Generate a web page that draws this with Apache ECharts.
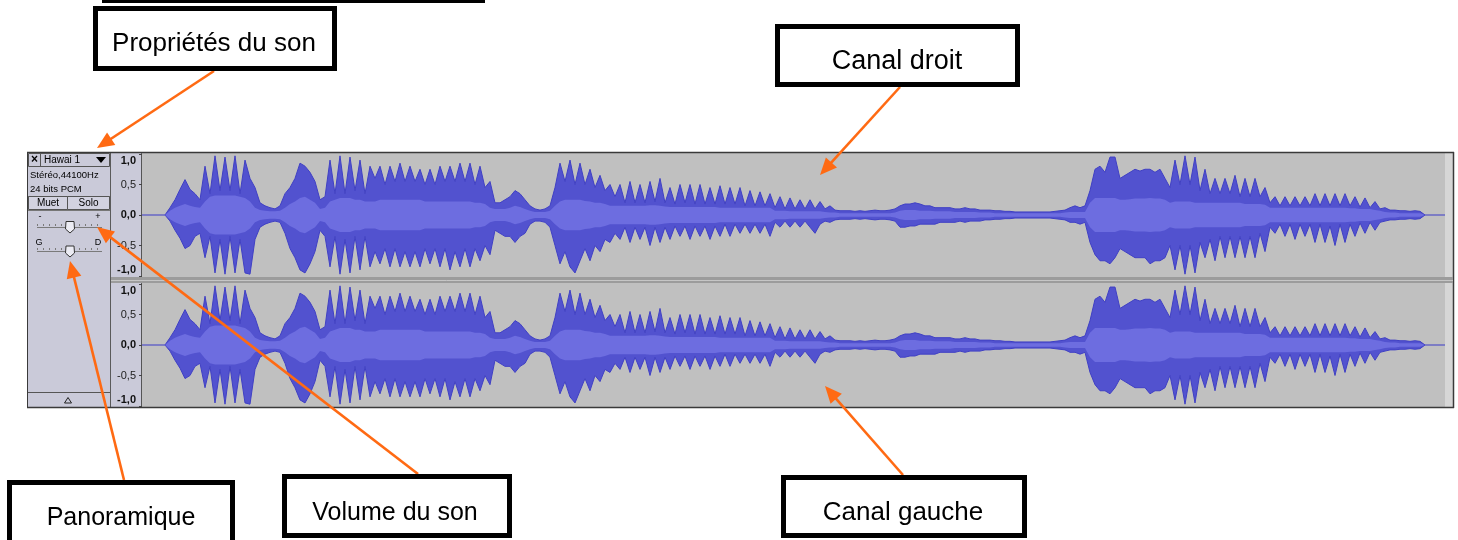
<!DOCTYPE html>
<html>
<head>
<meta charset="utf-8">
<script src="https://cdn.jsdelivr.net/npm/echarts@6.0.0/dist/echarts.min.js"></script>
<style>
html,body{margin:0;padding:0;background:#ffffff;}
#chart{width:1458px;height:540px;}
</style>
</head>
<body>
<div id="chart"></div>
<script>
// amplitude ticks of the vertical ruler and their labels
const yTicks = [-1, -0.5, 0, 0.5, 1];
const yTickLabels = ['-1,0', '-0,5', '0,0', '0,5', '1,0'];

// waveform, one value per sample column: peak maximum, peak minimum, RMS level
const peakMax = [
 0,.12,.25,.42,.58,.42,.35,.25,.8,.35,
 .97,.4,.95,.4,.97,.35,.9,.6,.45,.2,
 .15,.12,.1,.15,.35,.45,.6,.85,.8,.7,
 .55,.25,.3,.9,.35,.97,.35,.95,.4,.9,
 .35,.8,.6,.8,.5,.8,.55,.85,.55,.8,
 .55,.75,.5,.75,.5,.8,.55,.8,.55,.85,
 .55,.85,.5,.8,.45,.55,.2,.2,.25,.3,
 .4,.35,.25,.15,.1,.08,.1,.15,.45,.85,
 .55,.9,.5,.85,.5,.75,.45,.65,.4,.5,
 .3,.5,.2,.55,.2,.5,.2,.55,.22,.6,
 .2,.45,.18,.5,.2,.5,.18,.5,.18,.45,
 .18,.48,.18,.45,.18,.45,.15,.4,.15,.38,
 .15,.35,.12,.3,.1,.28,.1,.25,.1,.25,
 .1,.22,.1,.15,.08,.07,.07,.07,.06,.07,
 .06,.07,.08,.07,.07,.08,.1,.15,.18,.18,
 .2,.18,.15,.15,.12,.12,.12,.12,.1,.1,
 .12,.1,.1,.08,.08,.08,.07,.07,.06,.06,
 .05,.05,.05,.05,.05,.05,.05,.05,.06,.07,
 .08,.12,.15,.12,.15,.4,.75,.8,.7,.95,
 .95,.6,.65,.7,.75,.72,.75,.75,.7,.75,
 .6,.45,.9,.5,.97,.5,.95,.4,.75,.35,
 .6,.35,.6,.35,.65,.3,.6,.3,.6,.3,
 .45,.2,.3,.15,.3,.15,.3,.15,.3,.15,
 .35,.15,.35,.15,.35,.15,.35,.15,.3,.13,
 .28,.12,.22,.1,.12,.08,.08,.07,.07,.06,
 .07,.06,0
];
const peakMin = [
 0,-.1,-.25,-.38,-.55,-.5,-.35,-.3,-.7,-.35,
 -.95,-.4,-.97,-.35,-.95,-.4,-.95,-.97,-.4,-.2,
 -.15,-.12,-.1,-.12,-.3,-.55,-.7,-.9,-.95,-.8,
 -.6,-.25,-.35,-.85,-.35,-.97,-.4,-.95,-.35,-.9,
 -.35,-.85,-.6,-.8,-.55,-.85,-.55,-.85,-.6,-.85,
 -.6,-.85,-.55,-.8,-.55,-.85,-.55,-.9,-.6,-.85,
 -.55,-.85,-.55,-.75,-.5,-.65,-.25,-.3,-.35,-.35,
 -.45,-.35,-.3,-.15,-.1,-.1,-.12,-.2,-.5,-.8,
 -.6,-.85,-.95,-.75,-.55,-.75,-.5,-.6,-.4,-.45,
 -.3,-.4,-.2,-.45,-.2,-.4,-.2,-.5,-.2,-.45,
 -.2,-.4,-.18,-.35,-.18,-.4,-.18,-.35,-.18,-.4,
 -.18,-.35,-.15,-.35,-.15,-.3,-.15,-.3,-.15,-.3,
 -.15,-.35,-.12,-.2,-.1,-.2,-.1,-.2,-.1,-.2,
 -.3,-.15,-.1,-.12,-.08,-.07,-.07,-.07,-.06,-.07,
 -.06,-.07,-.08,-.07,-.07,-.08,-.1,-.2,-.2,-.18,
 -.18,-.15,-.15,-.15,-.15,-.12,-.12,-.12,-.12,-.1,
 -.12,-.1,-.1,-.1,-.08,-.08,-.07,-.07,-.06,-.06,
 -.05,-.05,-.05,-.05,-.05,-.05,-.05,-.05,-.06,-.07,
 -.08,-.12,-.12,-.15,-.12,-.45,-.65,-.75,-.75,-.8,
 -.7,-.55,-.6,-.65,-.7,-.7,-.7,-.8,-.75,-.75,
 -.7,-.5,-.9,-.5,-.97,-.5,-.95,-.45,-.7,-.4,
 -.75,-.35,-.7,-.35,-.7,-.35,-.7,-.35,-.7,-.3,
 -.6,-.2,-.3,-.15,-.35,-.15,-.4,-.15,-.35,-.15,
 -.45,-.15,-.45,-.18,-.5,-.15,-.45,-.15,-.35,-.13,
 -.3,-.12,-.25,-.12,-.1,-.08,-.08,-.07,-.07,-.06,
 -.07,-.06,0
];
const rmsLevel = [
 0,.07,.12,.15,.18,.15,.13,.12,.22,.3,
 .32,.32,.32,.32,.32,.3,.28,.22,.12,.08,
 .07,.06,.06,.07,.12,.18,.22,.28,.3,.25,
 .2,.1,.12,.22,.25,.28,.28,.28,.25,.25,
 .22,.22,.22,.25,.25,.25,.25,.25,.25,.25,
 .25,.25,.22,.22,.22,.22,.22,.22,.22,.22,
 .22,.22,.2,.2,.18,.12,.1,.1,.1,.12,
 .15,.13,.1,.07,.05,.05,.05,.07,.15,.22,
 .25,.25,.25,.25,.23,.22,.2,.2,.18,.15,
 .15,.15,.15,.15,.15,.15,.15,.16,.16,.15,
 .14,.13,.13,.13,.13,.13,.13,.13,.13,.13,
 .13,.12,.12,.12,.12,.12,.12,.12,.12,.12,
 .12,.12,.07,.07,.07,.06,.06,.06,.06,.06,
 .06,.06,.05,.04,.04,.03,.03,.03,.03,.03,
 .03,.03,.03,.03,.03,.03,.04,.07,.08,.08,
 .08,.07,.07,.07,.06,.06,.06,.06,.05,.05,
 .05,.05,.05,.04,.04,.04,.03,.03,.03,.03,
 .03,.03,.03,.03,.03,.03,.03,.03,.03,.03,
 .04,.05,.05,.05,.05,.2,.28,.28,.28,.28,
 .28,.25,.25,.26,.27,.27,.27,.28,.27,.27,
 .25,.2,.22,.22,.22,.22,.2,.2,.2,.2,
 .2,.2,.2,.2,.2,.2,.18,.18,.18,.18,
 .17,.12,.12,.12,.12,.12,.12,.12,.12,.12,
 .12,.12,.12,.12,.12,.12,.12,.11,.11,.1,
 .1,.1,.08,.07,.05,.04,.04,.03,.03,.03,
 .03,.03,0
];

// track header texts
const trackName = 'Hawai 1';
const trackFormat = ['Stéréo,44100Hz', '24 bits PCM'];
const trackButtons = ['Muet', 'Solo'];
const volumeMarks = ['-', '+'];
const panMarks = ['G', 'D'];

// annotation labels
const annotationLabels = ['Propriétés du son', 'Canal droit', 'Panoramique', 'Volume du son', 'Canal gauche'];

const FONT = '"Liberation Sans", Arial, sans-serif';
const PANEL = '#cacad9';
const ORANGE = '#ff6a13';
const X_MIN = -4.6, X_MAX = 256;

const chart = echarts.init(document.getElementById('chart'), null, {renderer: 'canvas', width: 1458, height: 540});

// ---------- decoration (Audacity chrome + annotations) ----------
const G = [];
function rect(x, y, w, h, style, z) { G.push({type: 'rect', shape: {x: x, y: y, width: w, height: h}, style: style, z: (z === undefined ? -10 : z), silent: true}); }
function seg(x1, y1, x2, y2, stroke, lw, z, dash) { G.push({type: 'line', shape: {x1: x1, y1: y1, x2: x2, y2: y2}, style: {stroke: stroke, lineWidth: lw || 1, lineDash: dash || null}, z: (z === undefined ? -9 : z), silent: true}); }
function poly(points, style, z) { G.push({type: 'polygon', shape: {points: points}, style: style, z: (z === undefined ? -8 : z), silent: true}); }
function txt(x, y, t, font, align, z) {
  G.push({type: 'text', x: x, y: y, silent: true, z: (z === undefined ? -7 : z),
    style: {text: t, font: font, fill: '#000', align: align || 'left', textAlign: align || 'left', verticalAlign: 'middle', textVerticalAlign: 'middle'}});
}
function arrow(x1, y1, x2, y2) {
  const a = Math.atan2(y2 - y1, x2 - x1), L = 17, W = 7.5;
  const bx = x2 - L * Math.cos(a), by = y2 - L * Math.sin(a);
  const px = -Math.sin(a) * W, py = Math.cos(a) * W;
  seg(x1, y1, bx + Math.cos(a) * 2, by + Math.sin(a) * 2, ORANGE, 2.6, 90);
  poly([[x2, y2], [bx + px, by + py], [bx - px, by - py]], {fill: ORANGE}, 91);
}
function box(x, y, w, h, label, cx, cy, size) {
  rect(x + 2.5, y + 2.5, w - 5, h - 5, {fill: '#ffffff', stroke: '#000000', lineWidth: 5}, 95);
  txt(cx, cy, label, size + 'px ' + FONT, 'center', 96);
}

// frame and areas
rect(27.5, 152.5, 83, 255, {fill: PANEL, stroke: '#3a3a3a', lineWidth: 1});
rect(110.5, 152.5, 31, 255, {fill: PANEL, stroke: '#5a5a5a', lineWidth: 1});
rect(142, 153, 1303, 254, {fill: '#c0c0c0'});
rect(1445, 153, 8, 254, {fill: '#d6d6d6'});
seg(1453.5, 152, 1453.5, 408, '#3a3a3a', 1.5);
seg(27, 152.5, 1454, 152.5, '#3a3a3a', 1.5);
seg(27, 407.5, 1454, 407.5, '#3a3a3a', 1.5);
seg(141.5, 153, 141.5, 407, '#555555', 1);
rect(111, 277, 1342, 6, {fill: '#9c9c9c'}, -9);
seg(111, 280.5, 1453, 280.5, '#c6c6c6', 1, -8);

// control panel
rect(28.5, 153.5, 81, 13, {fill: 'transparent', stroke: '#555555', lineWidth: 1}, -8);
seg(40.5, 153, 40.5, 167, '#555555', 1);
txt(34.5, 160, '×', 'bold 12px ' + FONT, 'center');
txt(44, 160, trackName, '10px ' + FONT, 'left');
poly([[96, 157], [106, 157], [101, 163]], {fill: '#000000'});
txt(30, 175, trackFormat[0], '9.5px ' + FONT, 'left');
txt(30, 189, trackFormat[1], '9.5px ' + FONT, 'left');
seg(28, 196.5, 110, 196.5, '#777777', 1);
rect(28.5, 196.5, 39, 13, {fill: '#d2d2e0', stroke: '#555555', lineWidth: 1}, -8);
rect(67.5, 196.5, 42, 13, {fill: '#d2d2e0', stroke: '#555555', lineWidth: 1}, -8);
txt(48, 203.5, trackButtons[0], '10px ' + FONT, 'center');
txt(88.5, 203.5, trackButtons[1], '10px ' + FONT, 'center');
seg(28, 210.5, 110, 210.5, '#777777', 1);
// volume slider
txt(40, 217, volumeMarks[0], '9px ' + FONT, 'center');
txt(98, 217, volumeMarks[1], '9px ' + FONT, 'center');
seg(37, 227.5, 102, 227.5, '#7a7a7a', 1);
seg(37, 225, 102, 225, '#7a7a7a', 2, -9, [1, 5]);
poly([[66, 221.5], [74, 221.5], [74.5, 229], [70, 233], [65.5, 229]], {fill: '#ececf4', stroke: '#333333', lineWidth: 1}, -6);
// pan slider
txt(39, 243, panMarks[0], '9px ' + FONT, 'center');
txt(98, 243, panMarks[1], '9px ' + FONT, 'center');
seg(37, 251.5, 102, 251.5, '#7a7a7a', 1);
seg(37, 249, 102, 249, '#7a7a7a', 2, -9, [1, 5]);
poly([[66, 246], [74, 246], [74.5, 253], [70, 257], [65.5, 253]], {fill: '#ececf4', stroke: '#333333', lineWidth: 1}, -6);
// collapse button
seg(28, 392.5, 110, 392.5, '#555555', 1);
poly([[64.5, 403], [71.5, 403], [68, 397.5]], {fill: PANEL, stroke: '#222222', lineWidth: 1});

// annotations
rect(102, 0, 383, 3, {fill: '#000000'}, 95);
box(93, 6, 244, 65, annotationLabels[0], 214, 44, 26);
box(775, 24, 245, 63, annotationLabels[1], 897, 62, 27);
box(7, 480, 228, 72, annotationLabels[2], 121, 518, 25);
box(282, 474, 230, 64, annotationLabels[3], 395, 513, 25);
box(781, 475, 246, 63, annotationLabels[4], 903, 513, 26);
arrow(214, 71, 97, 148);
arrow(900, 87, 820, 175);
arrow(418, 474, 97, 227);
arrow(124, 480, 70, 261);
arrow(903, 475, 825, 386);

// ---------- waveform ----------
const tracks = [{top: 154}, {top: 284}];
const pts = arr => arr.map((v, i) => [i, v]);
const rmsNeg = rmsLevel.map(v => -v);

function labelFmt(v) {
  const idx = yTicks.indexOf(Math.round(v * 10) / 10);
  const s = idx >= 0 ? yTickLabels[idx] : String(v);
  if (v === 1) return '{top|' + s + '}';
  if (v === -1) return '{bot|' + s + '}';
  if (v === 0) return '{b|' + s + '}';
  return '{n|' + s + '}';
}

const grids = [], xAxes = [], yAxes = [], series = [];
tracks.forEach((t, k) => {
  grids.push({left: 142, right: 13, top: t.top, height: 122, containLabel: false});
  xAxes.push({type: 'value', gridIndex: k, min: X_MIN, max: X_MAX, show: false});
  yAxes.push({
    type: 'value', gridIndex: k, min: -1, max: 1, interval: 0.5,
    splitLine: {show: false},
    axisLine: {show: false, onZero: false},
    axisTick: {show: true, length: 3, lineStyle: {color: '#444444'}},
    axisLabel: {
      margin: 6, formatter: labelFmt,
      rich: {
        n: {fontSize: 11, fontFamily: FONT, color: '#222222'},
        b: {fontSize: 11, fontFamily: FONT, color: '#111111', fontWeight: 'bold'},
        top: {fontSize: 11, fontFamily: FONT, color: '#111111', fontWeight: 'bold', padding: [13, 0, 0, 0]},
        bot: {fontSize: 11, fontFamily: FONT, color: '#111111', fontWeight: 'bold', padding: [0, 0, 13, 0]}
      }
    }
  });
  const common = {type: 'line', xAxisIndex: k, yAxisIndex: k, symbol: 'none', showSymbol: false, silent: true, animation: false, smooth: false};
  // blue zero line across the whole track
  series.push(Object.assign({}, common, {
    name: 'zero' + k, data: [[X_MIN, 0], [X_MAX, 0]], z: 1,
    lineStyle: {color: '#3a3ac8', width: 1}
  }));
  series.push(Object.assign({}, common, {
    name: 'max' + k, data: pts(peakMax), z: 2,
    lineStyle: {color: '#4040c4', width: 1}, areaStyle: {color: '#5252cf', opacity: 1}
  }));
  series.push(Object.assign({}, common, {
    name: 'min' + k, data: pts(peakMin), z: 2,
    lineStyle: {color: '#4040c4', width: 1}, areaStyle: {color: '#5252cf', opacity: 1}
  }));
  series.push(Object.assign({}, common, {
    name: 'rmsTop' + k, data: pts(rmsLevel), z: 3,
    lineStyle: {width: 0}, areaStyle: {color: '#6d6de0', opacity: 1}
  }));
  series.push(Object.assign({}, common, {
    name: 'rmsBot' + k, data: pts(rmsNeg), z: 3,
    lineStyle: {width: 0}, areaStyle: {color: '#6d6de0', opacity: 1}
  }));
});

chart.setOption({
  backgroundColor: '#ffffff',
  animation: false,
  grid: grids,
  xAxis: xAxes,
  yAxis: yAxes,
  series: series,
  graphic: {elements: G}
});
</script>
</body>
</html>
